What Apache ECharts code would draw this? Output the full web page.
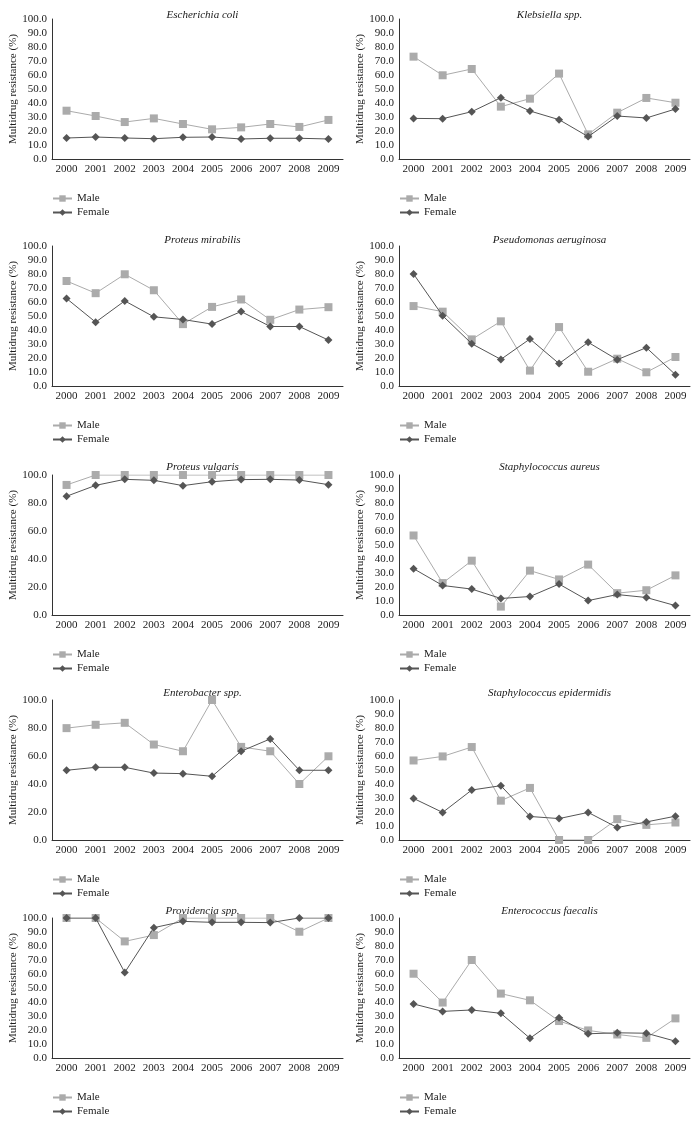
<!DOCTYPE html>
<html>
<head>
<meta charset="utf-8">
<script src="https://cdn.jsdelivr.net/npm/echarts@6/dist/echarts.min.js"></script>
<style>html,body{margin:0;padding:0;background:#fff}#c{width:695px;height:1122px}</style>
</head>
<body>
<div id="c"></div>
<script>
const years = ['2000','2001','2002','2003','2004','2005','2006','2007','2008','2009'];
const titles = ['Escherichia coli','Klebsiella spp.','Proteus mirabilis','Pseudomonas aeruginosa','Proteus vulgaris','Staphylococcus aureus','Enterobacter spp.','Staphylococcus epidermidis','Providencia spp.','Enterococcus faecalis'];
const yInterval = [10,10,10,10,20,10,20,10,10,10];

const ecoliMale = [34.5,30.7,26.4,29.0,25.0,21.2,22.6,25.0,22.9,27.9];
const ecoliFemale = [15.0,15.7,15.0,14.5,15.5,15.7,14.3,14.8,14.8,14.3];
const klebMale = [73.1,59.8,64.3,37.4,43.1,61.0,17.6,33.1,43.6,40.2];
const klebFemale = [29.0,28.8,33.8,43.8,34.3,28.1,16.0,30.7,29.3,35.7];
const pmirMale = [75.0,66.3,79.8,68.4,44.2,56.5,61.8,47.3,54.6,56.3];
const pmirFemale = [62.5,45.6,60.8,49.4,47.5,44.2,53.2,42.5,42.5,32.8];
const pseuMale = [57.1,53.1,33.3,46.2,11.0,42.1,10.2,19.5,9.8,20.7];
const pseuFemale = [80.0,50.2,30.2,19.0,33.6,16.0,31.2,18.8,27.4,8.1];
const pvulMale = [92.9,100,100,100,100,100,100,100,100,100];
const pvulFemale = [84.8,92.6,96.9,96.2,92.4,95.2,96.7,96.9,96.4,93.1];
const saurMale = [56.8,22.8,38.8,6.0,31.7,25.4,36.0,15.6,17.7,28.3];
const saurFemale = [33.1,21.1,18.5,11.8,13.2,22.1,10.3,14.6,12.5,6.7];
const entbMale = [79.9,82.3,83.7,68.2,63.4,100,66.5,63.4,40.0,59.8];
const entbFemale = [49.8,51.9,51.9,47.8,47.4,45.5,63.4,72.2,49.8,49.8];
const sepiMale = [56.8,59.7,66.4,28.1,37.2,0,0,14.9,10.8,12.5];
const sepiFemale = [29.7,19.7,35.7,38.8,16.8,15.3,19.7,8.9,12.9,17.0];
const provMale = [100,100,83.3,87.8,100,100,100,100,90.2,100];
const provFemale = [100,100,61.1,93.1,97.6,96.9,96.9,96.7,100,100];
const efaeMale = [60.2,39.6,70.0,46.0,41.2,26.4,19.7,16.8,14.4,28.3];
const efaeFemale = [38.6,33.3,34.3,31.9,14.1,28.8,17.3,18.0,17.7,12.0];

const maleData = [ecoliMale,klebMale,pmirMale,pseuMale,pvulMale,saurMale,entbMale,sepiMale,provMale,efaeMale];
const femaleData = [ecoliFemale,klebFemale,pmirFemale,pseuFemale,pvulFemale,saurFemale,entbFemale,sepiFemale,provFemale,efaeFemale];

const FONT = 'Liberation Serif';
const TXT = '#1a1a1a';
const MALE_C = '#ababab';
const FEMALE_C = '#555555';
const rowTops = [19, 246, 475, 700, 918];
const titleCenters = [12, 237, 464, 690, 908];
const plotH = 140;
const leftX = [52, 399];
const plotW = 291;

const grid = [], xAxis = [], yAxis = [], series = [], title = [], legend = [];
for (let i = 0; i < 10; i++) {
  const col = i % 2, row = Math.floor(i / 2);
  const top = rowTops[row];
  const left = leftX[col];
  grid.push({left: left, top: top, width: plotW, height: plotH, containLabel: false});
  title.push({
    text: titles[i], left: left + plotW / 2, top: titleCenters[row] - 7, textAlign: 'center',
    textStyle: {fontFamily: FONT, fontStyle: 'italic', fontWeight: 'normal', fontSize: 11, color: TXT}
  });
  xAxis.push({
    type: 'category', gridIndex: i, data: years, boundaryGap: true,
    axisLine: {lineStyle: {color: '#333', width: 1}},
    axisTick: {show: false},
    axisLabel: {fontFamily: FONT, fontSize: 11, color: TXT, margin: 5}
  });
  yAxis.push({
    type: 'value', gridIndex: i, min: 0, max: 100, interval: yInterval[i],
    name: 'Multidrug resistance (%)', nameLocation: 'middle', nameRotate: 90, nameGap: 31,
    nameTextStyle: {fontFamily: FONT, fontSize: 11, color: TXT},
    axisLine: {show: true, lineStyle: {color: '#333', width: 1}},
    axisTick: {show: false},
    splitLine: {show: false},
    axisLabel: {fontFamily: FONT, fontSize: 11, color: TXT, margin: 5, formatter: v => v.toFixed(1)}
  });
  series.push({
    name: 'Male', type: 'line', xAxisIndex: i, yAxisIndex: i, data: maleData[i],
    symbol: 'rect', symbolSize: 8, lineStyle: {color: MALE_C, width: 1},
    itemStyle: {color: MALE_C}, emphasis: {disabled: true}, animation: false, z: 2
  });
  series.push({
    name: 'Female', type: 'line', xAxisIndex: i, yAxisIndex: i, data: femaleData[i],
    symbol: 'diamond', symbolSize: 8, lineStyle: {color: FEMALE_C, width: 1},
    itemStyle: {color: FEMALE_C}, emphasis: {disabled: true}, animation: false, z: 3
  });
  legend.push({
    data: ['Male', 'Female'], orient: 'vertical', left: left, top: top + plotH + 34,
    padding: 0, itemWidth: 19, itemHeight: 8, itemGap: 3, selectedMode: false,
    textStyle: {fontFamily: FONT, fontSize: 11, color: TXT}
  });
}

const chart = echarts.init(document.getElementById('c'), null, {renderer: 'canvas'});
chart.setOption({backgroundColor: '#fff', animation: false, title, legend, grid, xAxis, yAxis, series});
</script>
</body>
</html>
